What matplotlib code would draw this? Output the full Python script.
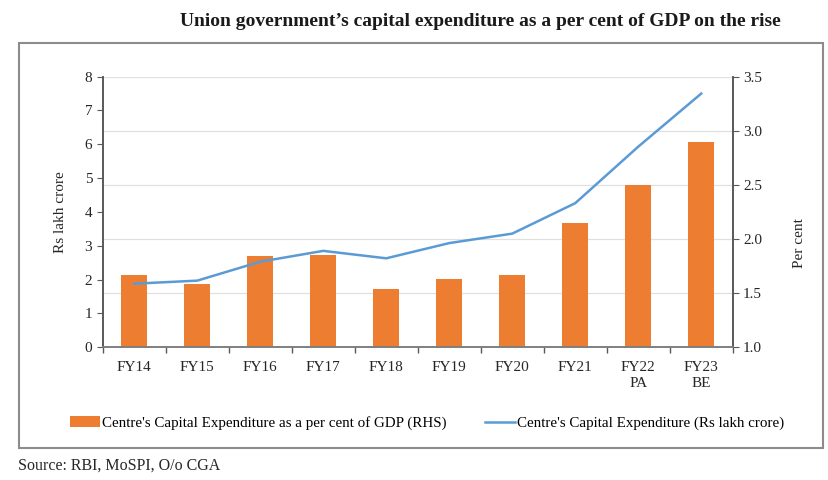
import matplotlib.pyplot as plt
import numpy as np
from matplotlib.patches import Patch, Rectangle
from matplotlib.lines import Line2D

plt.rcParams['font.family'] = ['Liberation Serif', 'DejaVu Serif']

years = ['FY14', 'FY15', 'FY16', 'FY17', 'FY18', 'FY19', 'FY20', 'FY21', 'FY22\nPA', 'FY23\nBE']
capex_pct_gdp = [1.67, 1.58, 1.84, 1.85, 1.54, 1.63, 1.67, 2.15, 2.50, 2.90]
capex_lakh_cr = [1.88, 1.97, 2.53, 2.85, 2.63, 3.08, 3.36, 4.26, 5.93, 7.50]

bar_col = '#ED7D31'
line_col = '#5B9BD5'
spine_col = '#595959'

fig = plt.figure(figsize=(8.29, 4.8), dpi=100)
ax = fig.add_axes([0.1239, 0.2765, 0.76, 0.5638])
ax2 = ax.twinx()

x = np.arange(len(years))

# bars are % of GDP on the right axis
ax2.bar(x, capex_pct_gdp, width=0.42, bottom=0, color=bar_col, zorder=2)
ax2.set_ylim(1.0, 3.5)
ax2.set_yticks(np.arange(1.0, 3.51, 0.5))
ax2.set_yticklabels(['%.1f' % v for v in np.arange(1.0, 3.51, 0.5)])
ax2.grid(axis='y', color='#e0e0e0', linewidth=0.9, zorder=0)
ax2.set_axisbelow(True)

# line is Rs lakh crore on the left axis, drawn on top
ax.plot(x, capex_lakh_cr, color=line_col, linewidth=1.8, zorder=3)
ax.set_ylim(0, 8)
ax.set_yticks(range(0, 9))
ax.set_xlim(-0.5, len(years) - 0.5)
ax.set_zorder(ax2.get_zorder() + 1)
ax.patch.set_visible(False)

ax.set_xticks(x)
ax.set_xticklabels(years, fontsize=11, color='#262626', linespacing=1.3)
ax.set_xticks(np.arange(-0.5, len(years), 1), minor=True)
ax.tick_params(axis='x', which='major', length=0, pad=10)
ax.tick_params(axis='x', which='minor', length=4, color=spine_col, width=1)
ax.tick_params(axis='y', length=4, color=spine_col, labelsize=11, labelcolor='#262626')
ax2.tick_params(axis='y', length=4, color=spine_col, labelsize=11, labelcolor='#262626')

for a in (ax, ax2):
    a.spines['top'].set_visible(False)
    a.spines['left'].set_color(spine_col)
    a.spines['right'].set_color(spine_col)
    a.spines['bottom'].set_color('#7f7f7f')
    a.spines['left'].set_linewidth(1.2)
    a.spines['right'].set_linewidth(1.2)
    a.spines['bottom'].set_linewidth(1.2)

ax.set_ylabel('Rs lakh crore', fontsize=11, color='#262626')
ax.yaxis.set_label_coords(-0.057, 0.5)
ax2.set_ylabel('Per cent', fontsize=11, color='#262626')
ax2.yaxis.set_label_coords(1.096, 0.385)

fig.text(0.58, 1 - 21 / 480, "Union government\u2019s capital expenditure as a per cent of GDP on the rise",
         ha='center', va='center', fontsize=14, fontweight='bold', color='#1a1a1a')

fig.patches.append(Rectangle((19 / 829, 32 / 480), 804 / 829, 405 / 480, transform=fig.transFigure,
                             fill=False, edgecolor='#8c8c8c', linewidth=1.5))

handles = [Patch(facecolor=bar_col, edgecolor='none'),
           Line2D([0], [0], color=line_col, linewidth=1.8)]
labels = ["Centre's Capital Expenditure as a per cent of GDP (RHS)",
          "Centre's Capital Expenditure (Rs lakh crore)"]
fig.legend(handles, labels, loc='center', bbox_to_anchor=(0.515, 1 - 423 / 480), ncol=2,
           frameon=False, fontsize=10.8, handlelength=2.0, handletextpad=0.1, columnspacing=2.6)

fig.text(18 / 829, 1 - 466 / 480, 'Source: RBI, MoSPI, O/o CGA', ha='left', va='center',
         fontsize=11.5, color='#262626')

fig.savefig('out.png', dpi=100)
